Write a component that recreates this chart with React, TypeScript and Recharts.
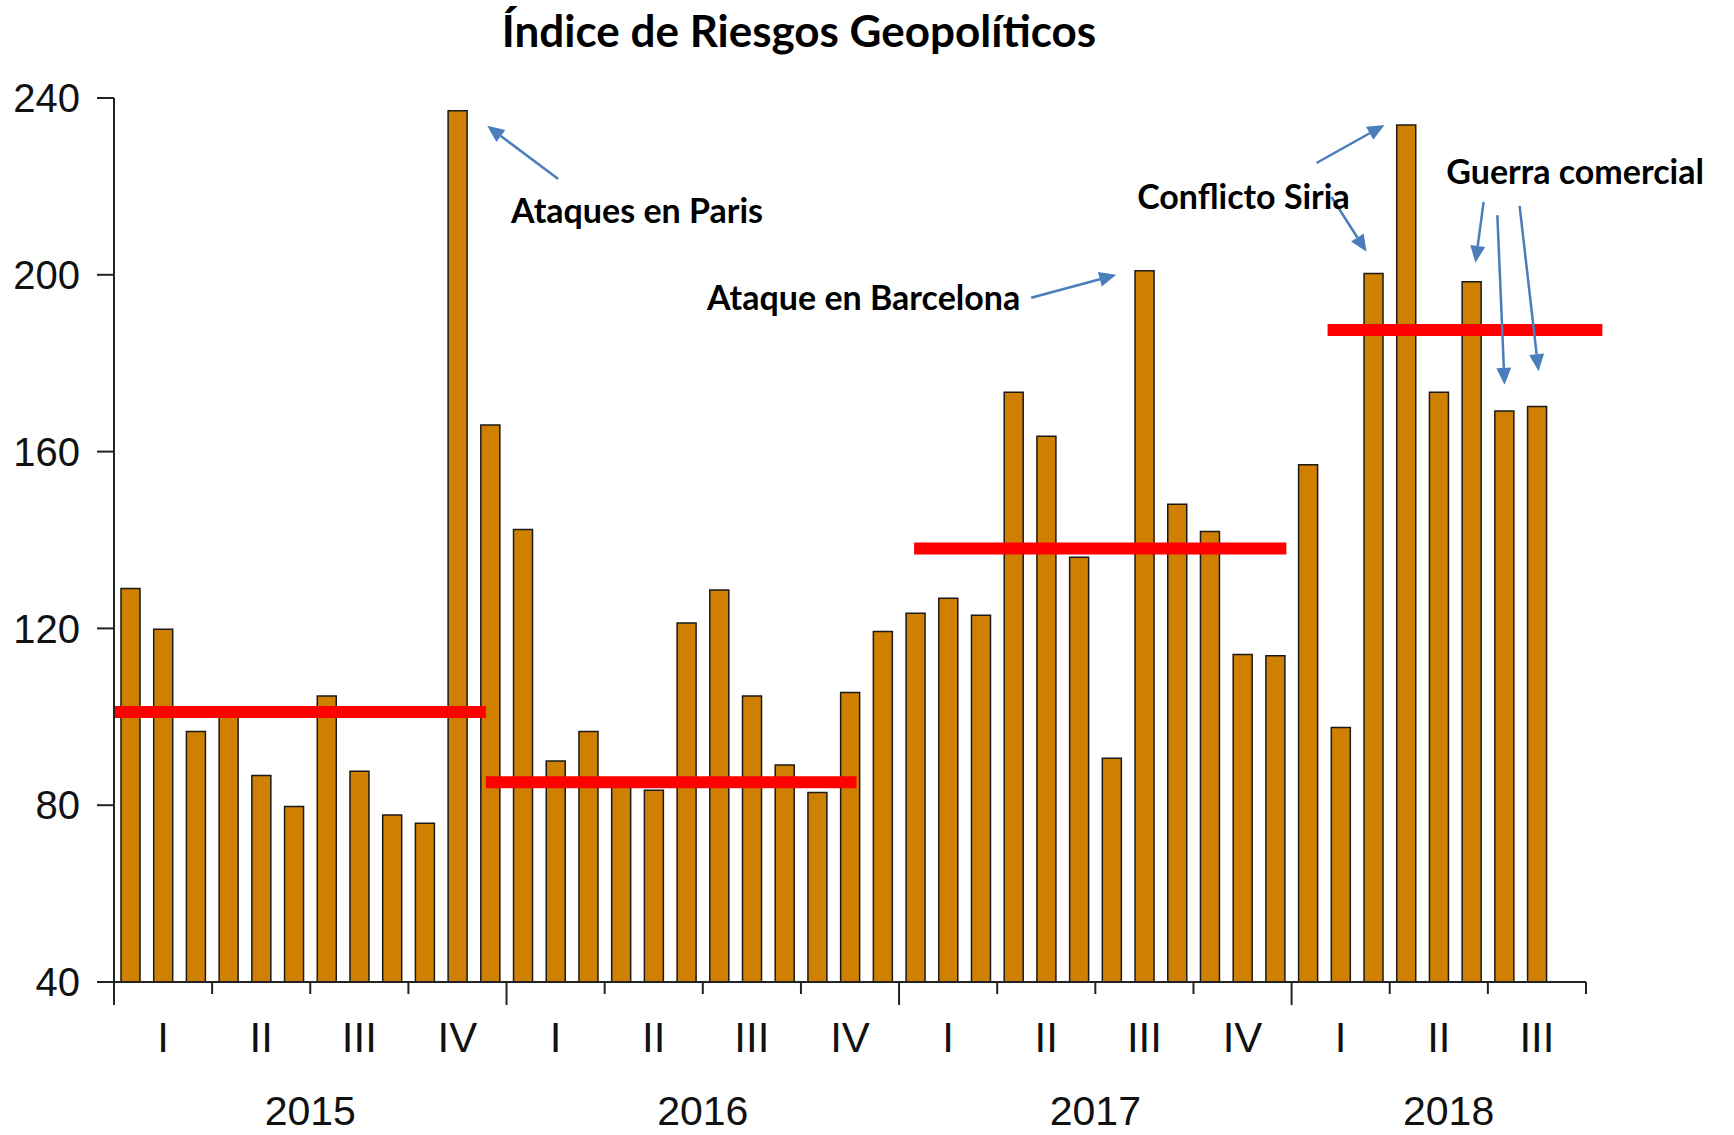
import React from "react";
import { BarChart, Bar, XAxis, YAxis, ReferenceLine, ReferenceDot } from "recharts";

const YEARS = ["2015", "2016", "2017", "2018"];
const QUARTERS = ["I", "II", "III", "IV"];

// índice mensual, ene-2015 .. ago-2018
const GPR_VALUES = [
  129.0, 119.8, 96.7, 100.5, 86.7, 79.7, 104.7, 87.7, 77.8, 75.9, 237.1, 166.0,
  142.4, 90.0, 96.7, 85.5, 83.4, 121.2, 128.7, 104.7, 89.1, 82.9, 105.5, 119.3,
  123.4, 126.8, 123.0, 173.4, 163.5, 136.1, 90.6, 200.9, 148.1, 141.9, 114.1, 113.8,
  157.0, 97.6, 200.3, 233.9, 173.4, 198.4, 169.2, 170.2,
];

// promedio anual (línea roja), en posiciones del eje numérico de meses
const YEAR_AVERAGES = [
  { from: 0, to: 11.37, value: 101.1 },
  { from: 11.37, to: 22.7, value: 85.2 },
  { from: 24.46, to: 35.84, value: 138.1 },
  { from: 37.1, to: 45.5, value: 187.5 },
];

const Y_TICKS = [40, 80, 120, 160, 200, 240];

const ANNOTATIONS = [
  { text: "Ataques en Paris", x: 12.14, y: 214.7 },
  { text: "Ataque en Barcelona", x: 18.13, y: 195.0 },
  { text: "Conflicto Siria", x: 31.28, y: 218.0 },
  { text: "Guerra comercial", x: 40.73, y: 223.7 },
];

const ARROWS = [
  { x1: 13.58, y1: 221.7, x2: 11.41, y2: 233.7 },
  { x1: 28.04, y1: 194.8, x2: 30.64, y2: 200.0 },
  { x1: 36.76, y1: 225.3, x2: 38.84, y2: 233.9 },
  { x1: 37.22, y1: 217.6, x2: 38.29, y2: 205.2 },
  { x1: 41.87, y1: 216.5, x2: 41.62, y2: 202.7 },
  { x1: 42.29, y1: 213.5, x2: 42.51, y2: 175.1 },
  { x1: 42.97, y1: 215.6, x2: 43.55, y2: 178.2 },
];

const YEAR_CENTERS: Record<string, number> = { "2015": 6, "2016": 18, "2017": 30, "2018": 40.8 };

const BAR_FILL = "#D08000";
const ARROW_BLUE = "#4A7EBB";
const AXIS_COLOR = "#222";
const NUM_FONT = "'Liberation Sans', Arial, sans-serif";
const TEXT_FONT = "Lato, 'Open Sans', sans-serif";

const TOTAL_SLOTS = 45;

// each month sits in the middle of its slot on the numeric month axis
const data = GPR_VALUES.map((v, i) => ({
  month: `${YEARS[Math.floor(i / 12)]}-${(i % 12) + 1}`,
  pos: i + 0.5,
  value: v,
}));

const boundaryTicks = Array.from({ length: 16 }, (_, i) => i * 3);
const quarterCenters = Array.from({ length: 15 }, (_, i) => i * 3 + 1.5);
const xTicks = Array.from(
  new Set([...boundaryTicks, ...quarterCenters, ...Object.values(YEAR_CENTERS)])
).sort((a, b) => a - b);

function XTick(props: any) {
  const { x, y, payload } = props;
  const v: number = payload.value;
  const parts: React.ReactNode[] = [];
  if (boundaryTicks.includes(v)) {
    const long = v % 12 === 0 && v < 45;
    parts.push(<line key="t" x1={x} x2={x} y1={y} y2={y + (long ? 23 : 12)} stroke={AXIS_COLOR} strokeWidth={2} />);
  }
  const qi = quarterCenters.indexOf(v);
  if (qi >= 0) {
    parts.push(
      <text key="q" x={x} y={y + 70} textAnchor="middle" fontSize={42} fontFamily={NUM_FONT} fill="#111">
        {QUARTERS[qi % 4]}
      </text>
    );
  }
  Object.entries(YEAR_CENTERS).forEach(([yr, c]) => {
    if (c === v) {
      parts.push(
        <text key={"y" + yr} x={x} y={y + 143} textAnchor="middle" fontSize={41} fontFamily={NUM_FONT} fill="#111">
          {yr}
        </text>
      );
    }
  });
  return <g>{parts}</g>;
}

function ArrowShape(props: any) {
  const { x1, y1, x2, y2 } = props;
  const ang = Math.atan2(y2 - y1, x2 - x1);
  const len = 17;
  const half = 7.5;
  const bx = x2 - len * Math.cos(ang);
  const by = y2 - len * Math.sin(ang);
  const px = -Math.sin(ang) * half;
  const py = Math.cos(ang) * half;
  return (
    <g>
      <line x1={x1} y1={y1} x2={bx} y2={by} stroke={ARROW_BLUE} strokeWidth={2.5} />
      <polygon points={`${x2},${y2} ${bx + px},${by + py} ${bx - px},${by - py}`} fill={ARROW_BLUE} />
    </g>
  );
}

function AnnotationText(text: string) {
  return (props: any) => (
    <text
      x={props.cx}
      y={props.cy}
      dominantBaseline="central"
      fontSize={34}
      fontWeight={700}
      fontFamily={TEXT_FONT}
      fill="#000"
    >
      {text}
    </text>
  );
}

export default function App() {
  return (
    <div style={{ position: "absolute", left: 0, top: 0, width: 1734, height: 1135, background: "#fff" }}>
      <div
        style={{
          position: "absolute",
          left: 0,
          top: 5,
          width: 1598,
          textAlign: "center",
          fontFamily: TEXT_FONT,
          fontWeight: 700,
          fontSize: 44,
          lineHeight: "50px",
          color: "#000",
        }}
      >
        Índice de Riesgos Geopolíticos
      </div>
      <BarChart
        width={1734}
        height={1135}
        data={data}
        margin={{ top: 98, right: 148, bottom: 13, left: 14 }}
        style={{ position: "absolute", left: 0, top: 0 }}
      >
        <XAxis
          dataKey="pos"
          type="number"
          domain={[0, TOTAL_SLOTS]}
          ticks={xTicks}
          interval={0}
          tickSize={0}
          tickMargin={0}
          tickLine={false}
          tick={XTick}
          height={140}
          padding={{ left: 0, right: 0 }}
          stroke={AXIS_COLOR}
          strokeWidth={2}
          allowDataOverflow
        />
        <YAxis
          type="number"
          domain={[40, 240]}
          ticks={Y_TICKS}
          interval={0}
          width={100}
          tickSize={17}
          tickMargin={17}
          stroke={AXIS_COLOR}
          strokeWidth={2}
          tick={{ fontSize: 40, fontFamily: NUM_FONT, fill: "#111" }}
          allowDataOverflow
        />
        <Bar
          dataKey="value"
          fill={BAR_FILL}
          stroke="#1a1a1a"
          strokeWidth={1.5}
          barSize={19}
          isAnimationActive={false}
        />
        {YEAR_AVERAGES.map((a, i) => (
          <ReferenceLine
            key={`avg-${i}`}
            segment={[
              { x: a.from, y: a.value },
              { x: a.to, y: a.value },
            ]}
            stroke="#FF0000"
            strokeWidth={12}
            ifOverflow="visible"
          />
        ))}
        {ARROWS.map((a, i) => (
          <ReferenceLine
            key={`arrow-${i}`}
            segment={[
              { x: a.x1, y: a.y1 },
              { x: a.x2, y: a.y2 },
            ]}
            shape={ArrowShape}
            ifOverflow="visible"
          />
        ))}
        {ANNOTATIONS.map((a, i) => (
          <ReferenceDot
            key={`note-${i}`}
            x={a.x}
            y={a.y}
            r={1}
            shape={AnnotationText(a.text)}
            ifOverflow="visible"
          />
        ))}
      </BarChart>
    </div>
  );
}
